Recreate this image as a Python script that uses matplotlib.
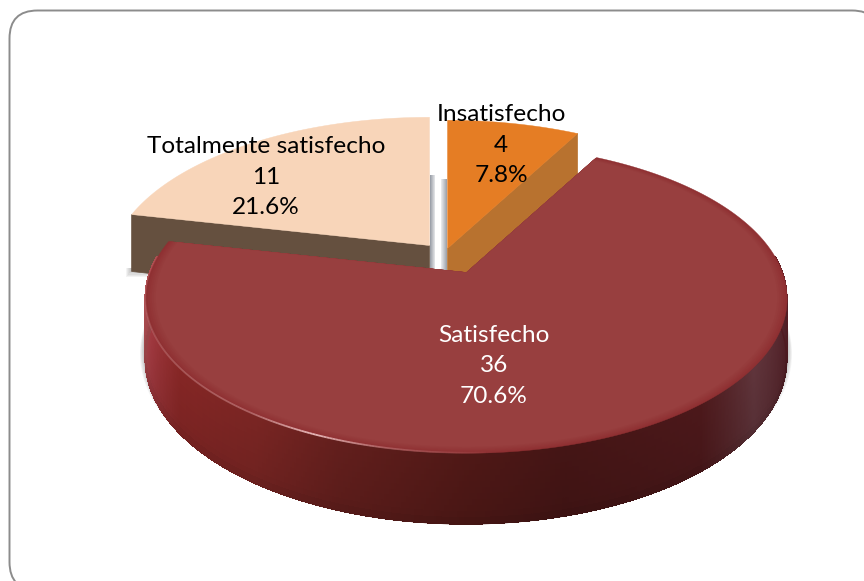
import numpy as np
import matplotlib
matplotlib.use("Agg")
import matplotlib.pyplot as plt
from matplotlib.collections import PolyCollection, LineCollection
from matplotlib.colors import to_rgb
from matplotlib.patches import FancyBboxPatch

categories = ["Insatisfecho", "Satisfecho", "Totalmente satisfecho"]
values = [4, 36, 11]

W, H = 864, 581
fig = plt.figure(figsize=(W / 100, H / 100), dpi=100, facecolor="white")
ax = fig.add_axes([0, 0, 1, 1])
ax.set_xlim(0, W)
ax.set_ylim(H, 0)
ax.axis("off")

# projection of the tilted pie on the page
RX, RY, PERSP, DEPTH = 316.0, 150.0, 0.17, 59.0
anchors = {"Insatisfecho": (447, 248), "Satisfecho": (466, 272), "Totalmente satisfecho": (429, 245)}


def proj(theta, r, anchor, z=0.0):
    t = np.radians(theta)
    X = r * np.sin(t)
    Y = -r * np.cos(t)
    s = 1.0 / (1.0 - PERSP * Y)
    return anchor[0] + RX * X * s, anchor[1] + RY * Y * s + DEPTH * z * s


def mix(c1, c2, f):
    a, b = np.array(to_rgb(c1)), np.array(to_rgb(c2))
    return tuple(a + (b - a) * f)


def stops_color(theta, stops):
    ts = [p[0] for p in stops]
    rgb = np.array([to_rgb(p[1]) for p in stops])
    return np.array([np.interp(theta, ts, rgb[:, i]) for i in range(3)])


def face(th0, th1, r, anchor, z=0.0, n=200):
    th = np.linspace(th0, th1, n)
    x, y = proj(th, r, anchor, z)
    return np.column_stack([np.r_[anchor[0], x], np.r_[anchor[1] + DEPTH * z, y]])


def quad(th_a, th_b, anchor, z0, z1):
    xa0, ya0 = proj(th_a, 1, anchor, z0)
    xb0, yb0 = proj(th_b, 1, anchor, z0)
    xb1, yb1 = proj(th_b, 1, anchor, z1)
    xa1, ya1 = proj(th_a, 1, anchor, z1)
    return [(xa0, ya0), (xb0, yb0), (xb1, yb1), (xa1, ya1)]


def radial_wall(theta, anchor, z=1.0):
    a = anchor
    xo, yo = proj(theta, 1, a)
    xb, yb = proj(theta, 1, a, z)
    return [(a[0], a[1]), (xo, yo), (xb, yb), (a[0], a[1] + DEPTH * z)]


# frame (runs off the right and bottom of the page)
ax.add_patch(FancyBboxPatch((9.5, 10.5), 870.5, 579.5,
                            boxstyle="round,pad=0,rounding_size=28",
                            fc="white", ec="#8c8c8c", lw=1.4, zorder=0, clip_on=True))

edges = np.cumsum([0] + values) / sum(values) * 360.0
spans = {c: (edges[i], edges[i + 1]) for i, c in enumerate(categories)}

# ---- grey walls seen in the gap between the two back slices
a_t = anchors["Totalmente satisfecho"]
a_i = anchors["Insatisfecho"]
n_strip = 7
for i in range(n_strip):
    f = i / (n_strip - 1)
    ax.fill_between([a_t[0] + 1 + i * 0.9, a_t[0] + 1 + (i + 1) * 0.9], a_t[1] - 70, a_t[1] + 27,
                    color=mix("#9ca1aa", "#ffffff", f), lw=0, zorder=1)
    ax.fill_between([a_i[0] - 6.5 + i * 0.9, a_i[0] - 6.5 + (i + 1) * 0.9], a_i[1] - 69, a_i[1] + 24,
                    color=mix("#f4f5f6", "#a0a5ad", f), lw=0, zorder=1)

# ---- Totalmente satisfecho
th0, th1 = spans["Totalmente satisfecho"]
a = a_t
xb, yb = proj(th0, 1, a, 1.0)
for d in range(6):
    ax.fill([xb - d, xb + 60, xb + 60, xb - d], [yb - 3, yb - 3, yb + 1.2 * d, yb + 1.2 * d],
            color="#555555", alpha=0.07, lw=0, zorder=1.5)
ax.add_collection(PolyCollection([radial_wall(th0, a)], facecolors="#65503f",
                                 edgecolors="#65503f", lw=0.5, zorder=2))
ax.add_collection(PolyCollection([face(th0, th1, 1, a)], facecolors="#f8d5b9",
                                 edgecolors="#f8d5b9", lw=0.3, zorder=3))

# ---- Insatisfecho
th0, th1 = spans["Insatisfecho"]
a = a_i
ax.add_collection(PolyCollection([radial_wall(th1, a)], facecolors="#b8722f",
                                 edgecolors="#b8722f", lw=0.5, zorder=2))
ax.add_collection(PolyCollection([face(th0, th1, 1, a)], facecolors="#e57d24",
                                 edgecolors="#e57d24", lw=0.3, zorder=3))

# ---- Satisfecho
th0, th1 = spans["Satisfecho"]
a = anchors["Satisfecho"]

# soft shadow below the body
for d in range(1, 9):
    r = 1 + d * 0.002
    ax.add_collection(PolyCollection([face(75, 285, r, (a[0], a[1] - 10), 1.0 + d * 0.008)],
                                     facecolors="#777777", edgecolors="none",
                                     alpha=0.075, zorder=3.5))

side_stops = [(20, "#5a1a20"), (85, "#5a1a20"), (105, "#4a1c22"), (125, "#573036"), (140, "#451618"),
              (165, "#3e1313"), (180, "#481614"), (200, "#5a1c1a"), (215, "#6f2220"),
              (235, "#7a2322"), (250, "#93343a"), (262, "#a0474a"), (290, "#a0474a")]
ths = np.linspace(84, 276, 501)   # only the front of the body can be seen
zs = np.linspace(0, 1, 13)
quads, cols = [], []
for ta, tb in zip(ths[:-1], ths[1:]):
    base = stops_color((ta + tb) / 2, side_stops)
    for z0, z1 in zip(zs[:-1], zs[1:]):
        zm = (z0 + z1) / 2
        shade = 1.0 + 0.10 * (1 - zm) - 0.06 * max(0, zm - 0.85) / 0.15
        quads.append(quad(ta, tb, a, z0, z1))
        cols.append(np.clip(base * shade, 0, 1))
ax.add_collection(PolyCollection(quads, facecolors=cols, edgecolors=cols, lw=0.6,
                                 antialiaseds=False, zorder=4))
# smooth lower edge of the side
xl, yl = proj(ths, 1, a, 1.0)
pl = np.column_stack([xl, yl])
ax.add_collection(LineCollection(np.stack([pl[:-1], pl[1:]], axis=1),
                                 colors=[stops_color(t, side_stops) * 0.95 for t in ths[:-1]],
                                 lw=1.0, zorder=4.1))

# top of the body, with a slightly darker bevel toward the rim
rs = np.linspace(1.0, 0.97, 6)
for i, r in enumerate(rs):
    c = mix("#8f3032", "#983f3f", i / (len(rs) - 1))
    ax.add_collection(PolyCollection([face(th0, th1, r, a)], facecolors=[c], edgecolors=[c],
                                      lw=0.3, zorder=5 + i * 0.01))

# highlight along the rim
tr = np.linspace(175, 272, 200)
xr, yr = proj(tr, 1.0, a)
pts = np.column_stack([xr, yr])
segs = np.stack([pts[:-1], pts[1:]], axis=1)
tm = (tr[:-1] + tr[1:]) / 2
alp = np.interp(tm, [175, 192, 204, 216, 240, 272], [0.0, 0.25, 0.8, 0.3, 0.22, 0.0])
rgba = np.column_stack([np.ones_like(tm), np.full_like(tm, 0.86), np.full_like(tm, 0.86), alp])
ax.add_collection(LineCollection(segs, colors=rgba, lw=1.3, zorder=5.3))

# labels
total = sum(values)
label_pos = {"Insatisfecho": (501, 145), "Satisfecho": (494, 366), "Totalmente satisfecho": (266, 177)}
label_col = {"Insatisfecho": "black", "Satisfecho": "white", "Totalmente satisfecho": "black"}
for c, v in zip(categories, values):
    ax.text(*label_pos[c], f"{c}\n{v}\n{v / total * 100:.1f}%", ha="center", va="center",
            multialignment="center", family="Lato", fontsize=17.6, linespacing=1.55,
            color=label_col[c], zorder=10)

fig.savefig("out.png", dpi=100, facecolor="white")
